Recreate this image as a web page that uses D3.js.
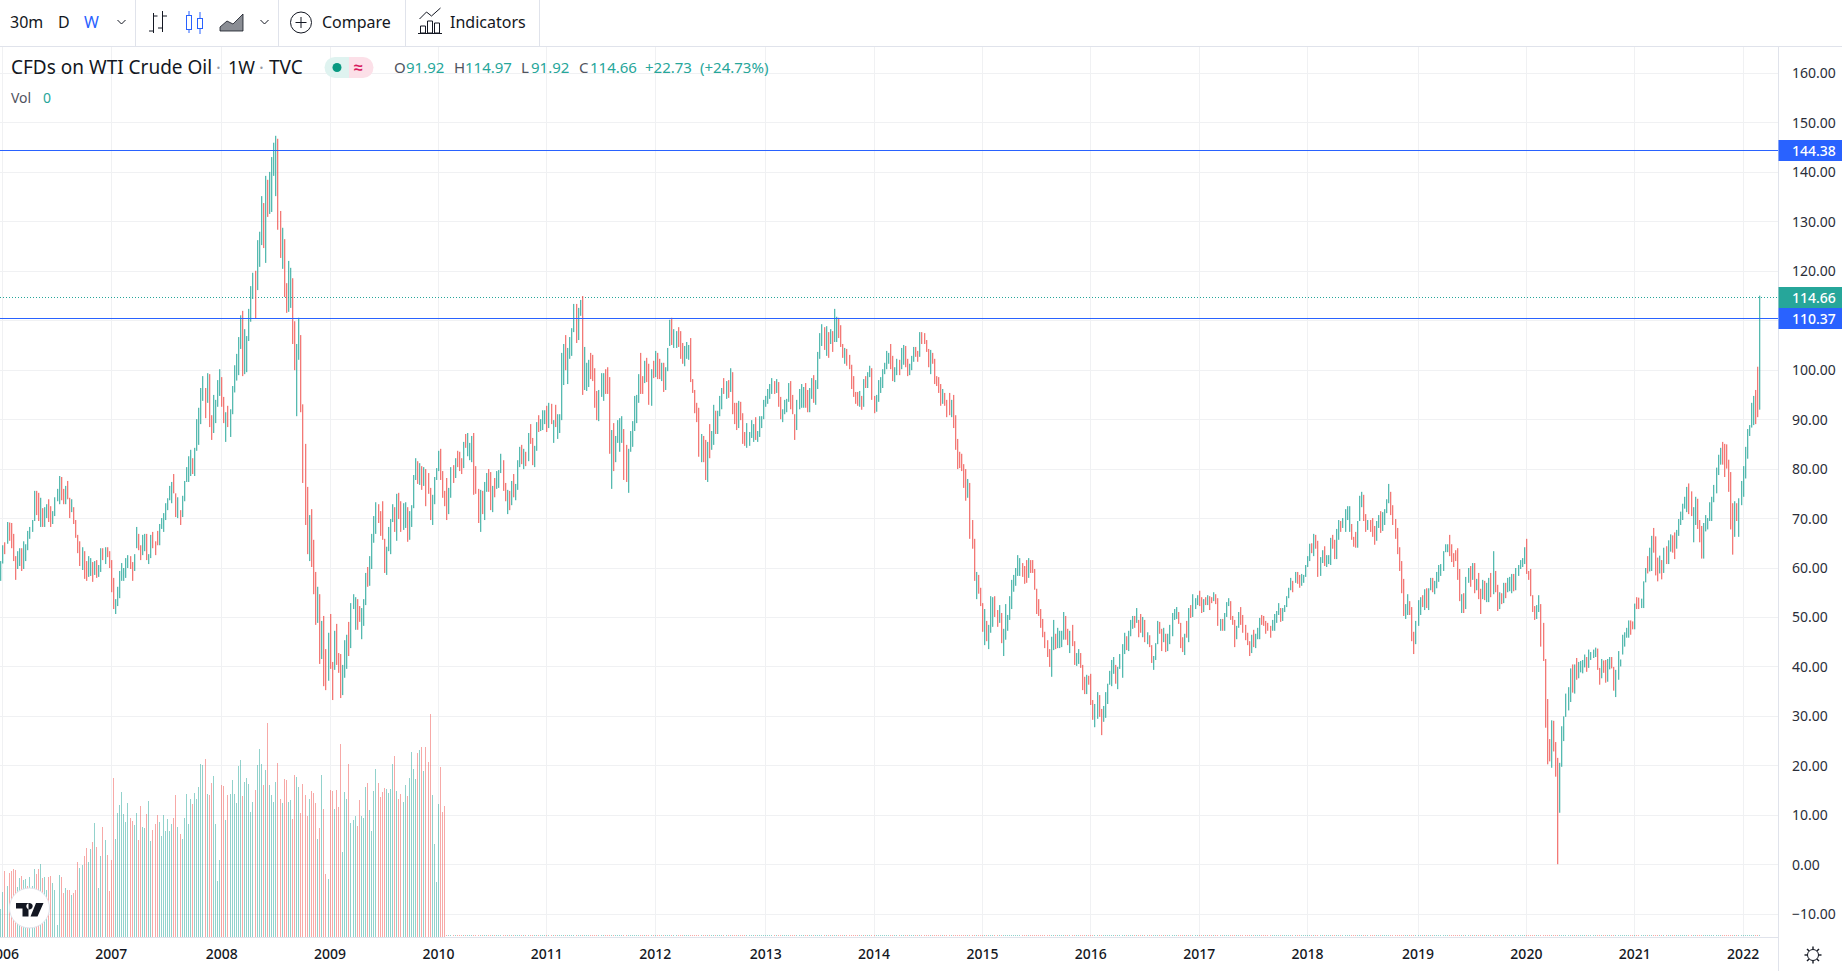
<!DOCTYPE html>
<html>
<head>
<meta charset="utf-8">
<style>
  html, body { margin: 0; padding: 0; background: #fff; overflow: hidden; }
  svg { display: block; }
  text { font-family: "Noto Sans", sans-serif; }
</style>
</head>
<body>
<svg id="chart" width="1842" height="971"></svg>
<script src="https://cdn.jsdelivr.net/npm/d3@7"></script>
<script>
// weekly bars per year: [high, low, up]
const bars2005 = [[61.3,57.3,1]]
const bars2006 = [[64.5,60.8,1],[65.1,62.7,0],[69.2,64.8,1],[69.1,65.4,0],[69.0,63.9,0],[66.8,61.3,0],[62.3,57.5,0],[63.3,59.7,1],[63.9,60.3,1],[63.9,59.3,0],[65.3,59.7,1],[64.7,61.3,1],[67.4,63.5,1],[68.2,65.8,1],[69.6,67.2,1],[75.5,69.4,1],[75.5,70.6,0],[75.1,69.4,0],[74.1,68.2,1],[72.0,68.2,0],[72.2,68.2,1],[72.8,70.0,1],[73.8,69.2,0],[72.4,68.2,0],[71.4,68.8,1],[74.2,70.4,1],[75.9,73.4,1],[78.5,72.8,1],[78.3,73.6,0],[75.9,72.8,0],[76.5,72.8,1],[77.5,73.8,0],[74.1,70.0,0],[73.8,71.2,1],[72.2,68.8,0],[69.6,66.0,0],[66.6,62.9,0],[65.3,60.3,0],[64.1,59.5,1],[63.3,57.7,0],[61.3,57.3,0],[62.3,58.1,1],[61.9,58.3,1],[61.1,57.1,0],[61.3,58.5,1],[61.5,57.9,0],[60.5,58.1,1],[63.9,59.1,1],[63.9,61.5,0],[64.1,60.7,1],[64.1,62.1,0],[63.3,59.9,0]]
const bars2007 = [[61.5,55.0,0],[57.9,51.6,0],[53.6,50.6,1],[56.1,52.2,1],[59.3,53.8,1],[60.9,57.3,1],[59.9,57.3,1],[61.9,57.9,1],[62.5,59.9,1],[62.3,59.7,0],[61.1,57.3,0],[62.7,59.3,1],[68.2,63.9,1],[66.8,63.5,0],[64.5,61.5,0],[66.6,62.5,1],[66.8,63.3,1],[66.8,61.5,0],[62.7,60.7,1],[66.6,61.9,1],[67.2,63.9,0],[65.3,62.5,0],[67.4,64.5,0],[68.8,64.5,1],[70.0,67.8,1],[71.0,67.2,1],[73.0,69.6,1],[74.0,71.6,1],[76.5,73.6,1],[77.3,73.0,1],[78.9,75.0,0],[75.0,70.2,0],[74.2,70.0,1],[71.6,68.6,0],[74.5,70.2,1],[77.5,73.4,1],[80.3,77.3,1],[82.5,77.3,1],[83.8,78.5,1],[82.1,78.9,0],[84.2,78.5,1],[90.0,83.6,1],[92.3,84.8,1],[96.3,89.0,1],[98.7,93.7,1],[96.3,90.2,0],[99.3,93.3,1],[99.1,88.4,0],[90.8,85.8,0],[94.9,87.2,1],[93.9,89.2,1],[97.9,92.5,1],[100.1,94.7,1]]
const bars2008 = [[98.5,92.5,0],[94.5,89.2,0],[91.4,85.4,1],[92.7,88.4,0],[92.0,86.4,1],[96.7,91.0,1],[100.9,95.4,1],[103.2,97.8,1],[106.6,98.9,1],[111.0,104.2,1],[111.9,98.7,0],[108.2,99.1,1],[106.8,99.5,1],[112.3,105.8,1],[116.9,109.7,1],[119.6,114.3,1],[120.0,110.3,0],[126.2,116.1,1],[127.9,120.8,1],[135.1,125.2,1],[133.7,124.6,0],[139.2,121.6,1],[138.4,130.9,0],[140.0,131.5,1],[143.0,131.9,1],[145.9,139.2,1],[147.3,135.1,1],[146.7,128.3,0],[132.1,122.6,0],[128.7,120.4,1],[126.4,114.7,0],[117.5,111.5,0],[122.0,111.7,1],[120.6,112.5,1],[118.5,105.2,0],[109.8,99.9,0],[105.2,90.6,1],[110.5,102.0,1],[107.0,91.4,0],[93.0,77.1,0],[85.0,68.6,0],[76.3,62.7,0],[70.6,61.3,1],[71.8,60.1,0],[65.6,54.6,0],[59.1,48.4,0],[56.1,48.8,1],[54.6,40.5,0],[49.2,41.5,1],[50.2,36.0,0],[43.5,35.2,0],[46.8,37.1,1]]
const bars2009 = [[50.6,39.5,0],[40.9,33.2,0],[47.2,39.3,1],[48.6,40.3,0],[42.7,38.7,0],[42.5,33.6,0],[40.3,34.2,1],[45.3,37.7,1],[46.4,39.5,1],[49.0,42.1,0],[52.8,43.7,1],[54.6,51.6,1],[54.0,47.4,1],[53.6,47.4,0],[52.2,49.0,0],[51.8,45.5,1],[53.6,48.2,1],[58.9,52.4,1],[60.1,56.1,0],[62.3,56.3,1],[66.8,59.7,1],[70.4,65.0,1],[73.2,66.8,1],[72.8,69.0,0],[71.4,66.4,0],[73.4,65.6,0],[65.8,58.9,0],[64.2,58.5,1],[68.2,63.3,1],[69.8,62.7,1],[72.8,69.2,1],[72.2,67.2,0],[74.9,65.4,1],[75.1,69.8,0],[73.4,67.2,0],[73.0,67.6,1],[73.2,68.0,1],[72.2,65.2,0],[71.4,65.6,1],[72.6,68.2,1],[78.7,72.0,1],[82.1,77.7,1],[81.5,76.9,0],[81.1,76.7,1],[80.5,75.7,0],[80.3,76.5,1],[79.9,72.4,0],[79.1,74.9,0],[76.1,69.6,0],[74.7,68.6,1],[78.3,72.8,1],[80.1,77.7,1]]
const bars2010 = [[83.6,79.5,1],[84.0,77.7,0],[79.5,74.1,0],[75.5,72.4,0],[78.1,69.6,0],[76.1,70.8,1],[80.3,74.1,1],[80.7,77.1,0],[82.1,78.1,1],[83.6,80.3,0],[83.4,79.5,0],[82.1,78.9,0],[85.4,80.1,1],[87.0,84.2,0],[87.2,82.5,1],[85.2,81.7,1],[86.6,81.3,1],[87.2,74.7,0],[80.5,74.9,0],[75.9,69.0,0],[75.7,67.2,1],[75.5,70.8,0],[77.3,69.6,1],[79.1,75.3,1],[79.9,75.3,0],[79.3,71.6,0],[76.5,71.2,1],[78.1,74.2,0],[79.5,75.9,1],[79.7,76.1,1],[83.0,79.1,1],[81.7,75.5,0],[77.1,73.4,0],[75.7,70.8,1],[75.5,71.6,0],[77.5,72.6,1],[78.9,74.2,0],[76.9,73.6,1],[81.7,75.7,1],[84.4,80.3,1],[84.8,80.9,0],[84.0,79.9,1],[83.4,80.5,0],[87.2,81.5,1],[89.0,85.0,0],[86.2,80.7,0],[84.6,80.3,1],[89.4,83.6,1],[90.8,87.4,0],[90.0,87.6,1],[91.8,87.8,1],[91.8,89.0,1]]
const bars2011 = [[92.7,87.4,0],[93.3,88.2,1],[93.1,89.0,0],[89.8,85.2,1],[92.9,88.4,0],[91.0,86.0,1],[91.0,87.2,1],[103.4,89.8,1],[105.2,96.9,1],[107.0,99.9,0],[104.4,97.1,1],[106.6,102.2,1],[108.4,102.8,1],[113.3,107.6,1],[113.3,105.4,0],[112.5,106.0,1],[114.1,110.9,1],[114.9,94.9,0],[104.6,95.9,1],[101.4,95.7,1],[102.0,96.5,1],[103.4,98.1,0],[103.0,97.7,0],[100.3,92.3,0],[95.7,89.8,0],[95.9,89.6,1],[99.3,94.5,1],[99.3,93.7,1],[100.1,95.1,0],[100.5,95.1,0],[98.5,83.0,0],[87.8,75.9,1],[89.2,79.5,0],[86.6,81.3,1],[89.8,85.2,1],[90.2,83.4,1],[90.6,85.2,1],[88.0,77.7,0],[84.8,77.3,0],[84.0,75.1,1],[87.6,83.4,1],[89.6,84.4,1],[94.7,87.6,1],[94.9,89.2,1],[99.1,93.3,1],[103.4,95.1,0],[98.7,95.1,0],[101.8,97.3,1],[102.4,97.5,0],[101.2,92.9,0],[100.1,92.7,1],[101.8,98.3,0]]
const bars2012 = [[103.8,98.5,1],[103.4,98.1,0],[102.2,98.1,0],[101.4,97.7,1],[101.4,95.5,0],[100.5,95.9,1],[104.4,99.7,1],[110.1,104.8,1],[110.5,105.0,0],[108.2,104.4,1],[107.8,104.4,1],[108.6,104.6,0],[107.8,102.2,0],[105.4,101.2,0],[104.8,100.7,1],[105.6,102.2,1],[105.0,102.0,1],[106.4,97.5,0],[98.1,95.3,0],[95.9,91.2,0],[93.3,89.4,0],[92.3,82.4,0],[87.0,81.3,1],[86.6,81.3,0],[85.8,77.7,0],[85.4,77.3,1],[89.0,82.1,0],[87.6,83.8,1],[92.9,84.8,1],[91.7,87.0,0],[91.7,87.0,1],[94.7,90.6,1],[96.3,92.0,1],[98.3,95.1,0],[97.7,94.1,1],[97.9,94.3,0],[100.3,95.5,1],[99.5,91.0,0],[93.3,89.0,0],[93.3,87.8,0],[93.7,88.2,1],[93.5,89.8,0],[91.2,85.0,0],[87.4,84.6,0],[89.2,84.2,1],[87.4,84.6,1],[89.8,86.2,1],[89.0,85.4,1],[90.4,85.8,0],[87.6,85.4,1],[90.6,86.4,1],[90.6,88.2,1],[93.9,90.0,1]]
const bars2013 = [[94.7,92.5,1],[96.1,93.1,1],[97.1,94.1,1],[98.3,95.1,1],[97.7,95.1,0],[98.1,95.3,1],[97.5,92.5,0],[94.5,90.0,0],[92.0,89.4,1],[93.9,91.0,1],[94.1,91.4,1],[97.3,93.5,1],[97.7,92.0,0],[94.9,91.0,0],[91.0,85.8,0],[93.9,87.8,1],[96.1,92.0,1],[97.1,92.3,1],[96.5,92.3,1],[97.3,92.3,0],[95.9,91.4,0],[96.3,91.4,1],[98.3,94.1,1],[98.9,93.3,0],[97.9,92.9,1],[103.6,96.1,1],[107.4,102.2,1],[109.2,104.8,1],[108.6,104.0,0],[108.8,102.8,1],[107.6,102.4,0],[108.2,105.2,1],[107.8,103.6,0],[112.3,105.6,1],[110.7,105.6,1],[110.5,106.4,0],[109.0,104.6,0],[105.2,102.4,0],[104.4,101.2,1],[104.2,100.8,0],[103.0,100.1,0],[101.0,96.1,0],[98.7,94.5,0],[95.5,93.1,0],[95.5,92.7,0],[95.7,92.5,1],[94.7,91.9,0],[98.1,92.5,1],[98.7,96.3,0],[99.5,96.3,1],[100.8,98.5,1],[100.3,93.9,0]]
const bars2014 = [[94.7,91.2,0],[94.9,91.5,1],[97.9,93.5,1],[98.5,95.3,1],[100.1,96.3,1],[101.4,99.1,1],[103.8,100.1,1],[103.4,101.2,1],[105.2,100.1,0],[102.8,97.7,0],[100.5,97.5,1],[102.2,98.9,1],[102.0,98.9,0],[104.4,100.1,1],[105.0,101.0,1],[104.8,100.5,0],[102.2,98.7,0],[101.2,98.9,1],[102.8,99.9,1],[104.6,101.6,1],[104.6,102.6,0],[103.8,101.6,0],[107.6,102.6,1],[107.6,105.2,0],[107.4,105.2,0],[106.0,103.6,0],[104.2,100.5,0],[104.0,99.1,1],[103.4,101.2,0],[102.2,97.1,0],[98.7,96.7,0],[98.5,95.3,0],[97.1,92.7,0],[96.1,93.1,1],[95.3,92.7,0],[93.9,90.4,0],[95.3,90.8,0],[93.9,90.4,1],[94.9,88.2,0],[90.8,83.8,0],[86.0,79.9,0],[83.4,80.1,0],[83.0,79.5,0],[80.9,76.1,0],[79.9,73.5,0],[77.9,74.1,1],[77.1,65.8,0],[69.6,63.8,0],[65.8,57.3,0],[59.1,53.6,1],[58.5,54.7,0],[55.9,52.2,0]]
const bars2015 = [[52.8,47.0,0],[51.6,44.3,1],[49.2,45.1,0],[48.4,43.5,1],[54.2,46.8,1],[54.0,48.0,1],[54.2,50.0,0],[51.4,48.0,0],[52.4,48.8,1],[50.8,44.7,0],[47.6,42.1,1],[52.6,45.4,1],[50.4,47.2,1],[54.2,49.4,1],[57.5,51.6,1],[58.5,55.1,1],[59.9,56.3,1],[62.5,58.3,1],[61.9,58.3,1],[60.9,58.1,0],[60.3,56.7,0],[61.5,56.9,0],[61.9,57.9,1],[61.5,58.9,0],[61.5,58.9,0],[59.7,55.5,0],[55.7,50.6,0],[53.6,50.2,0],[51.6,47.8,0],[49.6,45.9,0],[47.0,43.7,0],[45.3,41.9,0],[43.5,39.9,0],[46.0,37.9,1],[49.4,43.3,1],[46.6,43.5,0],[47.8,43.7,1],[47.2,43.7,1],[47.2,43.9,1],[51.0,45.4,1],[50.2,45.4,0],[47.6,44.3,0],[47.2,42.7,1],[48.4,44.1,0],[45.1,40.3,0],[42.7,40.1,1],[43.5,40.5,1],[42.7,39.7,0],[40.3,35.2,0],[37.9,34.4,0],[38.3,34.4,1],[38.1,36.3,0]]
const bars2016 = [[38.5,32.2,0],[33.2,29.2,0],[32.4,27.7,1],[34.8,29.4,1],[34.2,29.8,0],[31.4,26.1,0],[32.0,28.8,1],[34.8,29.6,1],[36.5,32.4,1],[39.1,36.3,1],[41.3,36.0,1],[41.9,38.5,1],[40.3,36.5,0],[39.9,35.4,1],[42.5,39.5,1],[44.5,37.7,1],[46.8,42.5,1],[46.1,43.3,0],[47.2,43.1,1],[49.4,46.1,1],[50.2,47.6,1],[50.2,47.8,0],[51.8,48.8,1],[49.4,45.9,0],[50.6,46.8,0],[50.0,45.9,1],[49.4,44.9,0],[46.9,44.5,1],[46.3,43.9,0],[44.3,40.7,0],[42.1,39.3,1],[44.7,41.3,1],[49.2,44.5,1],[49.0,46.6,0],[47.6,43.1,0],[47.8,44.9,1],[46.6,42.9,0],[46.6,43.1,1],[48.4,44.5,1],[50.8,46.1,1],[51.6,49.4,1],[52.0,49.6,1],[51.0,48.6,0],[48.8,43.7,0],[45.9,42.9,0],[46.6,42.3,1],[49.2,45.8,0],[51.8,44.9,1],[52.4,49.8,0],[54.6,50.0,1],[53.8,51.6,1],[54.4,52.4,1]]
const bars2017 = [[55.3,52.2,0],[54.0,50.8,0],[53.6,51.0,1],[54.0,52.4,0],[54.4,52.4,1],[54.2,51.4,0],[54.0,52.8,0],[55.0,53.2,1],[54.6,52.6,0],[53.8,48.2,0],[49.6,47.2,1],[49.6,47.2,0],[50.8,47.2,1],[53.0,50.0,1],[53.8,52.2,1],[53.2,49.4,0],[50.2,48.4,0],[49.4,43.9,0],[48.2,45.5,1],[51.0,47.8,1],[52.0,48.4,0],[50.4,46.8,0],[48.4,45.3,0],[46.8,44.3,0],[45.1,42.1,0],[46.4,42.7,1],[47.4,43.9,0],[46.6,43.7,1],[47.8,45.5,1],[49.8,45.5,1],[50.4,48.4,0],[50.2,48.2,0],[49.2,46.6,0],[48.8,47.2,0],[48.2,45.8,0],[49.4,47.2,1],[50.6,47.2,1],[51.2,48.8,1],[52.8,50.4,1],[51.8,49.0,0],[51.8,49.2,1],[52.4,51.0,1],[54.2,52.0,1],[55.9,53.8,1],[57.9,55.4,1],[57.3,55.0,0],[59.1,56.9,1],[59.1,56.7,0],[58.5,55.9,0],[58.7,56.3,1],[58.5,56.9,1],[60.5,58.1,1]]
const bars2018 = [[62.3,60.1,1],[64.8,61.3,1],[64.9,62.9,0],[66.8,62.3,1],[66.6,63.8,0],[65.4,58.1,0],[62.1,58.3,1],[63.5,60.9,1],[64.3,60.3,0],[62.5,60.1,1],[62.5,60.7,1],[66.0,60.5,1],[66.6,63.8,0],[65.6,61.7,0],[67.8,61.7,1],[69.6,65.6,1],[69.4,67.2,0],[70.0,68.0,1],[71.8,67.2,1],[72.4,69.6,1],[72.4,67.2,1],[68.8,65.6,0],[66.2,64.2,0],[67.2,64.0,0],[69.4,64.0,1],[74.5,69.4,1],[75.3,72.2,1],[74.7,69.4,0],[70.8,67.2,0],[69.6,67.6,1],[69.6,67.2,0],[70.0,66.2,0],[68.4,64.6,0],[69.4,65.4,1],[70.6,68.0,1],[71.4,67.0,0],[71.2,67.4,1],[71.8,68.6,1],[73.8,71.0,1],[76.9,73.0,1],[75.3,70.6,0],[72.6,68.6,0],[69.8,65.8,0],[68.0,62.7,0],[64.1,59.3,0],[61.3,54.8,0],[57.7,50.2,0],[52.6,49.6,1],[54.6,50.4,1],[53.2,50.4,0],[52.0,45.1,0],[47.0,42.5,0],[49.2,44.5,1]]
const bars2019 = [[53.4,48.2,1],[54.0,50.4,1],[54.4,52.0,0],[55.6,51.4,1],[55.8,51.8,0],[55.8,51.4,1],[57.9,55.4,1],[57.9,55.0,0],[57.3,54.6,1],[59.1,55.8,1],[60.5,57.1,1],[60.7,58.3,1],[63.3,59.3,1],[64.7,63.1,1],[64.7,63.1,1],[66.6,62.3,0],[64.7,61.1,0],[62.9,60.1,0],[63.5,61.3,0],[63.9,57.5,0],[59.7,53.2,0],[54.6,50.8,1],[54.8,50.8,0],[58.1,51.6,1],[59.9,56.9,1],[60.3,56.1,0],[60.9,57.5,1],[60.9,54.8,0],[57.7,55.4,1],[58.9,53.6,0],[55.7,50.6,0],[57.5,53.6,1],[57.3,53.4,0],[56.9,53.0,1],[57.9,53.0,1],[58.9,54.0,0],[63.3,54.6,1],[59.3,55.0,0],[56.5,51.2,0],[55.0,51.6,1],[54.8,52.6,0],[56.9,52.8,1],[56.9,53.8,0],[57.9,55.0,1],[58.1,55.2,1],[58.7,54.8,1],[58.7,55.2,0],[59.9,55.4,1],[60.5,58.3,1],[61.5,59.7,1],[61.9,60.1,1],[64.1,60.7,1]]
const bars2020 = [[65.8,58.7,0],[59.3,57.5,0],[59.7,54.2,0],[54.4,51.0,0],[52.2,49.4,0],[52.4,49.6,1],[54.4,51.0,1],[52.6,44.0,0],[48.8,41.1,0],[41.5,27.6,0],[33.4,20.2,0],[25.3,20.8,0],[29.1,19.5,1],[29.0,22.8,0],[24.7,17.7,0],[21.5,0.0,0],[20.5,10.4,1],[27.9,19.7,1],[29.9,24.9,1],[34.5,29.8,1],[35.8,31.1,1],[39.6,32.8,1],[40.4,34.7,0],[40.4,34.5,1],[41.7,37.3,0],[40.9,37.6,1],[41.1,38.8,1],[41.3,38.6,1],[42.4,39.8,1],[41.9,38.9,0],[43.4,39.7,1],[42.9,41.3,1],[43.4,41.7,1],[43.8,41.9,1],[43.6,39.3,0],[39.7,36.3,0],[41.5,37.6,1],[41.2,38.7,0],[41.3,36.7,0],[41.5,36.9,1],[41.9,39.4,1],[41.9,39.6,0],[39.9,35.1,0],[39.3,33.8,1],[43.1,37.3,1],[41.4,40.0,1],[46.4,42.4,1],[46.9,44.0,1],[47.8,45.8,1],[49.3,45.8,1],[49.3,46.4,0],[49.1,47.5,0]]
const bars2021 = [[52.7,47.5,1],[54.0,51.6,0],[53.9,51.6,0],[53.7,51.8,1],[57.2,51.8,1],[59.9,57.0,1],[62.3,58.8,0],[64.0,59.2,1],[66.4,59.3,1],[68.0,63.0,0],[66.3,58.4,0],[62.0,57.2,0],[62.4,58.8,1],[61.5,57.6,0],[64.0,58.9,1],[64.3,60.7,0],[65.5,60.7,1],[66.7,63.2,1],[66.5,63.0,0],[67.1,61.7,0],[67.6,63.8,1],[69.8,66.4,1],[71.3,68.6,1],[72.9,69.6,1],[74.3,71.9,1],[76.3,71.2,1],[77.0,70.8,0],[75.4,70.4,0],[72.2,65.1,1],[74.3,68.6,1],[73.9,67.8,0],[69.6,65.1,0],[68.4,61.8,0],[69.0,61.8,1],[70.6,67.3,1],[70.0,67.7,1],[73.2,69.4,1],[74.3,69.4,1],[76.7,73.2,1],[80.2,75.0,1],[82.8,78.7,1],[84.2,80.8,1],[85.4,80.8,0],[85.0,78.3,0],[84.9,80.0,0],[81.8,75.3,0],[79.3,67.7,0],[73.0,62.6,0],[73.4,66.2,1],[73.0,69.4,0],[74.0,66.2,1],[77.5,72.6,1]]
const bars2022 = [[80.5,74.3,1],[84.4,78.0,1],[88.0,82.0,1],[88.8,86.6,1],[93.3,88.3,1],[94.7,88.8,1],[95.9,89.0,0],[100.6,90.4,0],[114.97,91.92,1]]

// volume for the first bars, after that the feed reports 0
const volume = [81,132,195,150,189,195,201,198,147,174,180,168,171,150,177,150,201,186,201,216,174,177,138,177,180,159,138,33,183,177,129,144,138,138,123,129,138,222,204,213,240,264,222,261,282,339,267,144,240,327,288,243,135,228,474,291,369,393,432,366,342,399,354,345,333,369,288,390,327,324,366,405,285,318,336,363,342,300,363,315,351,315,336,354,423,327,306,291,354,426,336,411,396,429,411,447,516,513,531,426,423,459,480,336,165,228,453,450,348,423,426,468,426,399,510,528,420,462,474,456,372,402,438,513,561,516,453,498,639,453,423,402,462,519,411,399,471,468,402,408,351,483,477,447,369,456,423,360,411,435,429,399,291,324,483,381,186,171,438,435,381,438,387,576,252,432,411,516,339,348,360,330,408,360,354,447,459,378,315,435,501,459,417,432,444,441,429,441,516,540,435,411,426,402,453,420,474,552,501,471,549,558,567,495,567,522,666,423,276,162,396,507,372,390]
const volumeUp = [1,1,0,1,0,0,0,0,1,1,0,1,1,0,1,1,1,0,0,1,0,1,1,0,0,1,1,1,1,0,0,1,0,0,1,0,0,0,1,1,0,0,1,1,0,1,0,1,1,0,1,0,0,0,0,1,1,1,1,1,1,1,0,0,1,1,0,0,1,1,0,1,1,0,0,0,1,1,1,1,1,1,1,0,0,1,0,1,1,1,1,1,0,1,1,1,1,1,0,1,0,0,1,1,1,1,0,0,1,0,1,1,1,1,1,1,0,1,1,1,1,1,0,1,1,1,0,1,0,1,1,1,1,0,0,1,0,0,1,1,0,0,1,1,0,0,0,0,1,0,0,0,1,0,1,0,0,1,0,0,1,0,0,0,1,1,1,0,1,1,1,0,0,1,1,1,0,1,1,1,1,0,0,0,0,1,1,1,1,0,1,0,0,1,1,0,1,1,1,1,0,1,0,1,0,0,0,1,1,1,1,0,0,0]

const yearLabels = ["2006","2007","2008","2009","2010","2011","2012","2013","2014","2015","2016","2017","2018","2019","2020","2021","2022"]
const yearBars = [bars2006,bars2007,bars2008,bars2009,bars2010,bars2011,bars2012,bars2013,bars2014,bars2015,bars2016,bars2017,bars2018,bars2019,bars2020,bars2021,bars2022]
const priceTicks = [-10,0,10,20,30,40,50,60,70,80,90,100,110,120,130,140,150,160]
const priceLines = [144.38, 110.37]
const lastClose = 114.66

const GREEN = "#26a69a", RED = "#ef5350", BLUE = "#2962ff"
const W = 1842, H = 971, PLOT_R = 1778, PLOT_T = 47, PLOT_B = 937

const bars = [].concat(bars2005, ...yearBars)
let yearStart = [], count = bars2005.length
yearBars.forEach(b => { yearStart.push(count); count += b.length })

const svg = d3.select("#chart")
const x = d3.scaleLinear().domain([0, bars.length - 1]).range([0.3, 1759.3])
const y = d3.scaleLinear().domain([0, 160]).range([864.2, 73])
const yVol = d3.scaleLinear().domain([0, 666]).range([PLOT_B - 1, 714])
const px = i => Math.round(x(i))

svg.append("clipPath").attr("id", "plot").append("rect")
  .attr("width", PLOT_R).attr("height", PLOT_B).attr("y", 0)

// grid
const grid = svg.append("g").attr("clip-path", "url(#plot)")
grid.selectAll(".gy").data(priceTicks).enter().append("line")
  .attr("x1", 0).attr("x2", PLOT_R)
  .attr("y1", d => Math.round(y(d)) + 0.5).attr("y2", d => Math.round(y(d)) + 0.5)
  .attr("stroke", "#f0f1f3")
grid.selectAll(".gx").data(yearStart).enter().append("line")
  .attr("x1", d => px(d) + 0.5).attr("x2", d => px(d) + 0.5)
  .attr("y1", PLOT_T).attr("y2", PLOT_B)
  .attr("stroke", "#f0f1f3")

// volume
const volG = svg.append("g").attr("clip-path", "url(#plot)")
volG.selectAll("rect").data(bars).enter().append("rect")
  .attr("x", (d, i) => px(i))
  .attr("width", 1)
  .attr("y", (d, i) => i < volume.length ? yVol(volume[i]) : PLOT_B - 2)
  .attr("height", (d, i) => i < volume.length ? PLOT_B - yVol(volume[i]) : 1)
  .attr("fill", (d, i) => (i < volume.length ? volumeUp[i] : d[2]) ? GREEN : RED)
  .attr("opacity", 0.5)

// last price line
svg.append("line")
  .attr("x1", 0).attr("x2", PLOT_R)
  .attr("y1", Math.round(y(lastClose)) + 0.5).attr("y2", Math.round(y(lastClose)) + 0.5)
  .attr("stroke", GREEN).attr("stroke-dasharray", "1 2")

// weekly bars
const barG = svg.append("g").attr("clip-path", "url(#plot)")
barG.selectAll("rect").data(bars).enter().append("rect")
  .attr("x", (d, i) => px(i))
  .attr("width", 1.3)
  .attr("y", d => y(d[0]))
  .attr("height", d => y(d[1]) - y(d[0]))
  .attr("fill", d => d[2] ? GREEN : RED)
  .attr("opacity", 0.78)

svg.selectAll(".hl").data(priceLines).enter().append("line")
  .attr("x1", 0).attr("x2", PLOT_R)
  .attr("y1", d => Math.round(y(d)) + 0.5).attr("y2", d => Math.round(y(d)) + 0.5)
  .attr("stroke", BLUE)

// axes panels
svg.append("line").attr("x1", PLOT_R + 0.5).attr("x2", PLOT_R + 0.5).attr("y1", PLOT_T).attr("y2", H).attr("stroke", "#e0e3eb")
svg.append("line").attr("x1", 0).attr("x2", PLOT_R).attr("y1", PLOT_B + 0.5).attr("y2", PLOT_B + 0.5).attr("stroke", "#e0e3eb")

const yAxis = d3.axisRight(y).tickValues(priceTicks.filter(t => t !== 110)).tickFormat(d3.format(".2f")).tickSize(0).tickPadding(14)
const yg = svg.append("g").attr("transform", `translate(${PLOT_R},0.5)`).call(yAxis)
yg.select(".domain").remove()
yg.selectAll("text").attr("font-size", 14).attr("fill", "#2a2e39").style("font-family", '"Noto Sans", sans-serif')

const xAxis = d3.axisBottom(x).tickValues(yearStart).tickFormat((d, i) => yearLabels[i]).tickSize(0).tickPadding(12)
const xg = svg.append("g").attr("transform", `translate(0,${PLOT_B})`).call(xAxis)
xg.select(".domain").remove()
xg.selectAll("text").attr("font-size", 14).attr("font-weight", 500).attr("fill", "#131722").style("font-family", '"Noto Sans", sans-serif')

// price labels
const tags = [[144.38, BLUE], [lastClose, GREEN], [110.37, BLUE]]
tags.forEach(t => {
  svg.append("rect").attr("x", PLOT_R + 0.5).attr("y", Math.round(y(t[0])) - 10).attr("width", W - PLOT_R).attr("height", 21).attr("fill", t[1])
  svg.append("text").attr("x", 1792).attr("y", Math.round(y(t[0])) + 5.5).attr("font-size", 14).attr("font-weight", 500).attr("fill", "#fff").text(t[0].toFixed(2))
})

// toolbar
svg.append("rect").attr("width", W).attr("height", PLOT_T).attr("fill", "#fff")
svg.append("line").attr("x1", 0).attr("x2", W).attr("y1", PLOT_T - 0.5).attr("y2", PLOT_T - 0.5).attr("stroke", "#e0e3eb")
;[135, 278, 405, 539].forEach(v => {
  svg.append("line").attr("x1", v + 0.5).attr("x2", v + 0.5).attr("y1", 0).attr("y2", PLOT_T).attr("stroke", "#e0e3eb")
})
function tool(str, xPos, color) {
  svg.append("text").attr("x", xPos).attr("y", 27.5).attr("font-size", 16).attr("fill", color || "#131722").text(str)
}
tool("30m", 10); tool("D", 58); tool("W", 84, BLUE); tool("Compare", 322); tool("Indicators", 450)

const ink = { fill: "none", stroke: "#131722", "stroke-width": 1 }
function icon(d, attrs) {
  let p = svg.append("path").attr("d", d)
  Object.entries(attrs || ink).forEach(e => p.attr(e[0], e[1]))
  return p
}
icon("M117.5 20l4 4 4-4")
icon("M260.5 20l4 4 4-4")
icon("M153.5 13v20M149 31h4.5M153.500 16h4M162.500 11v21M162.500 16h4.500M158 28h4.500", ink)
icon("M189 11v4M189 29v4", { fill: "none", stroke: BLUE })
svg.append("rect").attr("x", 186.5).attr("y", 15.5).attr("width", 5).attr("height", 14).attr("fill", "none").attr("stroke", BLUE)
svg.append("rect").attr("x", 197.5).attr("y", 18.5).attr("width", 5).attr("height", 10).attr("fill", "none").attr("stroke", BLUE)
icon("M200 12v6M200 29v5", { fill: "none", stroke: BLUE })
icon("M220 27l7-6 6 3 10-10v17h-23z", { fill: "#8a8d94", stroke: "#131722", "stroke-width": 0.8 })
svg.append("circle").attr("cx", 301).attr("cy", 22.5).attr("r", 10.5).attr("fill", "none").attr("stroke", "#131722")
icon("M301 17v11M295.5 22.5h11")
icon("M419.5 19l7-7 5 4 9-8M420.5 33v-7h5v7zM427.5 33v-12h5v12zM434.5 33v-10h5v10zM418 33.5h24")

// title row
const legendFont = 15
function txt(str, xPos, yPos, size, color) {
  return svg.append("text").attr("x", xPos).attr("y", yPos).attr("font-size", size).attr("fill", color).text(str)
}
txt("CFDs on WTI Crude Oil", 11, 74, 19, "#131722")
txt("·", 216, 74, 18, "#9598a1")
txt("1W", 228, 74, 18, "#131722")
txt("·", 259, 74, 18, "#9598a1")
txt("TVC", 269, 74, 19, "#131722")
svg.append("path").attr("d", "M335 57h14v21h-14a10.5 10.5 0 0 1 0-21z").attr("fill", "#dff3f0")
svg.append("path").attr("d", "M349 57h14a10.5 10.5 0 0 1 0 21h-14z").attr("fill", "#fce0e8")
svg.append("circle").attr("cx", 337).attr("cy", 67.5).attr("r", 4.5).attr("fill", "#089981")
txt("≈", 354, 73, 16, "#d81b60").attr("font-weight", 700)

const ohlc = [["O", 394, "91.92", 406], ["H", 454, "114.97", 465], ["L", 521, "91.92", 531], ["C", 579, "114.66", 590]]
ohlc.forEach(o => {
  txt(o[0], o[1], 73, legendFont, "#50535e")
  txt(o[2], o[3], 73, legendFont, GREEN)
})
txt("+22.73", 645, 73, legendFont, GREEN)
txt("(+24.73%)", 700, 73, legendFont, GREEN)
txt("Vol", 11, 103, 14, "#50535e")
txt("0", 43, 103, 14, GREEN)

// logo
svg.append("circle").attr("cx", 29.5).attr("cy", 908).attr("r", 20).attr("fill", "#fff").attr("stroke", "#e0e3eb")
svg.append("path").attr("d", "M16 903h12.5v13.500h-6v-8h-6.500zM29.500 903a3.200 3.200 0 1 0 .01 0zM36 903h7.500l-6 13.500h-7z").attr("fill", "#131722")

// gear
const gear = svg.append("g").attr("transform", "translate(1813,955)").attr("fill", "none").attr("stroke", "#131722")
gear.append("circle").attr("r", 5.5)
d3.range(8).forEach(k => {
  let a = k * Math.PI / 4
  gear.append("line").attr("x1", 5.5 * Math.cos(a)).attr("y1", 5.5 * Math.sin(a)).attr("x2", 8.5 * Math.cos(a)).attr("y2", 8.5 * Math.sin(a)).attr("stroke-width", 1.4)
})
</script>
</body>
</html>
